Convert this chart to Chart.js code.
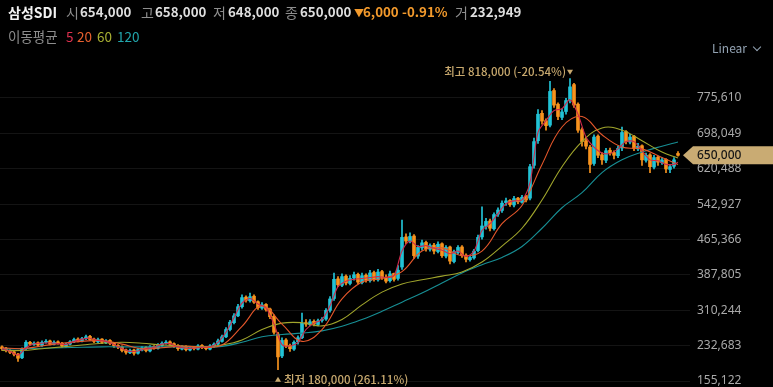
<!DOCTYPE html>
<html>
<head>
<meta charset="utf-8">
<script src="https://cdn.jsdelivr.net/npm/chart.js@4.4.1/dist/chart.umd.min.js"></script>
<style>
  html, body { margin: 0; padding: 0; background: #000; }
  #wrap { position: relative; width: 773px; height: 387px; overflow: hidden; background: #000;
          font-family: "Noto Sans CJK KR", "Noto Sans", sans-serif; }
  #chart { position: absolute; left: 0; top: 0; }
  .t { position: absolute; white-space: nowrap; line-height: 16px; }
  .r1 { top: 4px; font-size: 13.3px; }
  .r2 { top: 28px; font-size: 13.5px; }
  .lab { color: #8e8e8e; font-size: 14px; }
  .num { color: #dedede; font-weight: 700; }
  .dn { color: #f39a2c; font-weight: 700; }
  .lin { top: 40px; left: 712px; font-size: 12px; color: #93a3b3; }
  .chev { position: absolute; left: 754px; top: 44px; width: 5px; height: 5px;
          border-right: 1.3px solid #93a3b3; border-bottom: 1.3px solid #93a3b3; transform: rotate(45deg); }
</style>
</head>
<body>
<div id="wrap">
  <canvas id="chart" width="773" height="387"></canvas>

  <span class="t r1 num" style="left:8px;color:#f2f2f2;font-size:14px">삼성SDI</span>
  <span class="t r1 lab" style="left:66px">시</span>
  <span class="t r1 num" style="left:80px">654,000</span>
  <span class="t r1 lab" style="left:141px">고</span>
  <span class="t r1 num" style="left:155px">658,000</span>
  <span class="t r1 lab" style="left:213px">저</span>
  <span class="t r1 num" style="left:228px">648,000</span>
  <span class="t r1 lab" style="left:285px">종</span>
  <span class="t r1 num" style="left:300px">650,000</span>
  <span class="t r1 dn" style="left:354px;font-size:10px;top:5px">▼</span>
  <span class="t r1 dn" style="left:363px">6,000</span>
  <span class="t r1 dn" style="left:402px">-0.91%</span>
  <span class="t r1 lab" style="left:455px">거</span>
  <span class="t r1 num" style="left:470px">232,949</span>

  <span class="t r2 lab" style="left:8px;font-size:13.5px">이동평균</span>
  <span class="t r2" style="left:66px;color:#e0304f">5</span>
  <span class="t r2" style="left:77px;color:#e8602e">20</span>
  <span class="t r2" style="left:97px;color:#a9b033">60</span>
  <span class="t r2" style="left:117px;color:#22a6ad">120</span>

  <span class="t lin">Linear</span>
  <div class="chev"></div>
</div>

<script>
// prices in thousands of won
const UNIT = 1000;

const opens = [
  230,227,222,219,214,206,226,240,235,239, 233,240,243,236,241,238,231,236,241,247,
  243,248,253,247,241,247,239,244,238,233, 230,223,217,223,216,223,229,221,231,227,
  233,238,241,237,233,225,231,223,229,225, 233,229,225,231,236,242,252,268,283,298,
  318,339,331,341,329,315,323,313,297,258, 210,245,233,225,241,250,283,279,286,279,
  288,291,310,336,379,365,385,369,381,389, 371,387,375,393,377,395,381,375,391,380,
  405,471,461,473,429,447,459,444,453,439, 456,429,449,417,437,449,431,421,425,441,
  471,494,506,489,521,529,546,551,541,556, 547,559,556,628,682,742,726,716,792,762,
  733,746,771,805,762,706,682,668,632,692, 651,639,661,656,649,666,702,679,692,664,
  671,639,651,624,646,634,641,619,626,654
];
const highs = [
  232,229,224,221,216,228,244,242,241,241, 243,246,245,243,243,240,238,244,249,250,
  251,256,255,249,249,248,246,246,240,235, 232,225,225,225,227,231,231,233,233,237,
  241,244,243,239,235,233,233,231,231,235, 235,231,235,239,247,256,272,288,303,323,
  344,342,348,344,331,327,325,315,300,262, 250,248,236,243,254,304,290,290,289,291,
  294,314,340,392,384,390,388,386,394,392, 392,390,398,396,400,398,388,396,392,408,
  508,478,480,476,452,464,462,456,457,460, 458,452,451,442,452,452,434,430,444,475,
  537,512,510,524,535,550,556,553,560,558, 562,562,630,688,750,748,730,812,796,765,
  752,775,818,808,765,710,690,672,695,695, 656,665,666,660,670,712,704,696,694,676,
  673,655,654,650,648,645,643,630,645,658
];
const lows = [
  222,219,215,210,198,204,224,233,233,231, 231,238,234,234,236,229,229,234,239,241,
  241,246,244,239,239,237,237,235,229,226, 219,214,215,212,214,221,219,219,225,225,
  231,236,233,229,222,223,221,221,223,223, 226,223,223,229,234,240,250,265,280,296,
  315,328,328,325,312,312,308,292,258,180, 206,228,220,222,236,248,275,276,276,276,
  284,288,306,332,362,362,366,366,376,368, 368,372,372,374,374,378,370,372,374,376,
  400,456,458,424,424,442,440,440,434,436, 426,425,412,414,434,426,416,418,422,438,
  466,488,484,486,516,525,540,538,537,544, 545,548,552,622,676,718,705,712,755,728,
  728,740,765,755,700,670,664,612,628,645, 630,634,650,642,645,660,675,675,660,660,
  628,635,612,620,628,630,612,612,622,648
];
const closes = [
  226,222,218,214,205,225,240,236,238,234, 240,242,236,240,238,232,236,241,246,244,
  248,252,246,242,246,240,243,238,232,230, 222,218,222,216,224,228,222,230,228,234,
  238,240,236,232,226,230,224,228,226,232, 228,226,232,236,243,252,268,284,298,318,
  338,332,340,328,316,322,312,296,262,208, 244,232,226,240,250,282,280,285,280,287,
  290,310,335,378,366,384,370,380,388,372, 386,376,392,378,394,382,374,390,378,398,
  470,462,472,430,448,458,445,452,440,455, 430,448,418,438,448,430,422,426,440,470,
  495,505,490,520,530,545,550,542,555,548, 558,552,625,680,740,725,715,790,760,735,
  745,770,800,760,705,680,670,630,690,650, 640,660,655,650,665,700,680,690,665,670,
  640,650,625,645,635,640,620,625,640,650
];

// moving averages (candle index -> value)
const ma5Idx = [
  0,2,4,6,8,10,12,14,16,18,20,22,24,26,28,30,32,34,36,38,40,42,44,46,48,50,52,54,56,58,
  60,62,64,66,68,70,72,74,76,78,80,82,84,86,88,90,92,94,96,98,100,102,104,106,108,110,
  112,114,116,118,120,122,124,126,128,130,132,134,136,138,140,142,144,146,148,150,152,
  154,156,158,160,162,164,166,168,169
];
const ma5 = [
  226,220,212,228,237,238,239,237,235,242,247,249,244,242,235,226,220,221,226,229,
  236,237,230,227,227,229,230,240,262,294,326,336,324,315,280,235,232,240,268,282,
  290,320,362,374,378,380,382,384,382,386,440,462,450,452,446,442,434,440,428,440,
  485,500,522,544,550,552,590,700,726,748,752,772,740,690,668,655,654,664,680,680,
  660,640,638,630,630,635
];
const maIdx = [
  0,5,10,15,20,25,30,35,40,45,50,55,60,65,70,75,80,85,90,95,100,105,110,115,120,125,
  130,135,140,145,150,155,160,165,169
];
const ma20 = [
  228,226,232,238,242,244,236,226,228,232,229,234,275,320,280,242,268,335,372,380,
  395,440,447,430,440,500,540,630,712,735,695,668,664,645,630
];
const ma60 = [
  222,222,226,230,234,238,240,238,234,232,230,234,245,268,282,283,276,290,322,350,
  368,377,385,394,416,451,490,552,625,680,710,705,682,657,644
];
const ma120 = [
  225,226,227,228,229,230,230,230,230,230,230,231,240,252,257,260,265,275,290,308,
  328,348,370,392,410,426,450,490,535,568,612,640,657,670,679
];

const yTicks = [155122, 232683, 310244, 387805, 465366, 542927, 620488, 698049, 775610];

const UP = '#22c3d6';
const DOWN = '#f7931e';
const fmt = v => v.toLocaleString('en-US');
const candleColor = c => closes[c.dataIndex] >= opens[c.dataIndex] ? UP : DOWN;
const pts = (idx, vals) => idx.map((x, k) => ({ x: x, y: vals[k] * UNIT }));

// labels for the highest / lowest prices and the last-price tag
const markers = {
  id: 'markers',
  afterDraw(chart) {
    const { ctx, scales: { x, y } } = chart;
    const hi = Math.max(...highs), lo = Math.min(...lows);
    const hiIdx = highs.indexOf(hi), loIdx = lows.indexOf(lo);
    const last = closes[closes.length - 1];
    ctx.save();
    ctx.font = '500 11.5px "Noto Sans CJK KR", "Noto Sans"';
    ctx.fillStyle = '#c8a96e';
    ctx.textBaseline = 'middle';

    const hx = x.getPixelForValue(hiIdx), hy = y.getPixelForValue(hi * UNIT);
    ctx.beginPath();
    ctx.moveTo(hx - 3, hy - 9); ctx.lineTo(hx + 3, hy - 9); ctx.lineTo(hx, hy - 4);
    ctx.fill();
    ctx.textAlign = 'right';
    ctx.fillText(`최고 ${fmt(hi * UNIT)} (${((last / hi - 1) * 100).toFixed(2)}%)`, hx - 4, hy - 7);

    const lx = x.getPixelForValue(loIdx), ly = y.getPixelForValue(lo * UNIT);
    ctx.beginPath();
    ctx.moveTo(lx - 3, ly + 12); ctx.lineTo(lx + 3, ly + 12); ctx.lineTo(lx, ly + 7);
    ctx.fill();
    ctx.textAlign = 'left';
    ctx.fillText(`최저 ${fmt(lo * UNIT)} (${((last / lo - 1) * 100).toFixed(2)}%)`, lx + 6, ly + 10);

    // price tag
    const py = y.getPixelForValue(last * UNIT);
    ctx.fillStyle = '#c9ab73';
    ctx.beginPath();
    ctx.moveTo(683, py);
    ctx.lineTo(693, py - 9); ctx.lineTo(773, py - 9);
    ctx.lineTo(773, py + 9); ctx.lineTo(693, py + 9);
    ctx.closePath();
    ctx.fill();
    ctx.fillStyle = '#161616';
    ctx.font = '500 12px "Noto Sans"';
    ctx.fillText(fmt(last * UNIT), 697, py + 0.5);
    ctx.restore();
  }
};

new Chart(document.getElementById('chart'), {
  data: {
    datasets: [
      { type: 'line', label: 'MA5', data: pts(ma5Idx, ma5), borderColor: '#cf2a4c',
        borderWidth: 1.1, pointRadius: 0, tension: 0.3, order: 0 },
      { type: 'line', label: 'MA20', data: pts(maIdx, ma20), borderColor: '#e5572b',
        borderWidth: 1.1, pointRadius: 0, tension: 0.4, order: 0 },
      { type: 'line', label: 'MA60', data: pts(maIdx, ma60), borderColor: '#a1a62c',
        borderWidth: 1.1, pointRadius: 0, tension: 0.4, order: 0 },
      { type: 'line', label: 'MA120', data: pts(maIdx, ma120), borderColor: '#178f95',
        borderWidth: 1.1, pointRadius: 0, tension: 0.4, order: 0 },
      { type: 'bar', label: 'wick', grouped: false, order: 2, barThickness: 1,
        data: highs.map((h, i) => ({ x: i, y: [lows[i] * UNIT, h * UNIT] })),
        backgroundColor: candleColor },
      { type: 'bar', label: 'body', grouped: false, order: 1, barThickness: 3, minBarLength: 1,
        data: closes.map((c, i) => ({ x: i, y: [Math.min(opens[i], c) * UNIT, Math.max(opens[i], c) * UNIT] })),
        backgroundColor: candleColor }
    ]
  },
  options: {
    responsive: false,
    animation: false,
    layout: { padding: 0 },
    plugins: { legend: { display: false }, tooltip: { enabled: false } },
    scales: {
      x: { type: 'linear', display: false, min: -0.5, max: 172, offset: false },
      y: {
        position: 'right',
        min: 141967,
        max: 990476,
        afterBuildTicks: s => { s.ticks = yTicks.map(v => ({ value: v })); },
        afterFit: s => { s.width = 83; s.paddingTop = 0; s.paddingBottom = 0; },
        grid: { color: '#141414', drawTicks: false },
        border: { display: false },
        ticks: { color: '#a9a9a9', padding: 7, font: { family: 'Noto Sans', size: 12 },
                 callback: v => fmt(v) }
      }
    }
  },
  plugins: [markers]
});
</script>
</body>
</html>
